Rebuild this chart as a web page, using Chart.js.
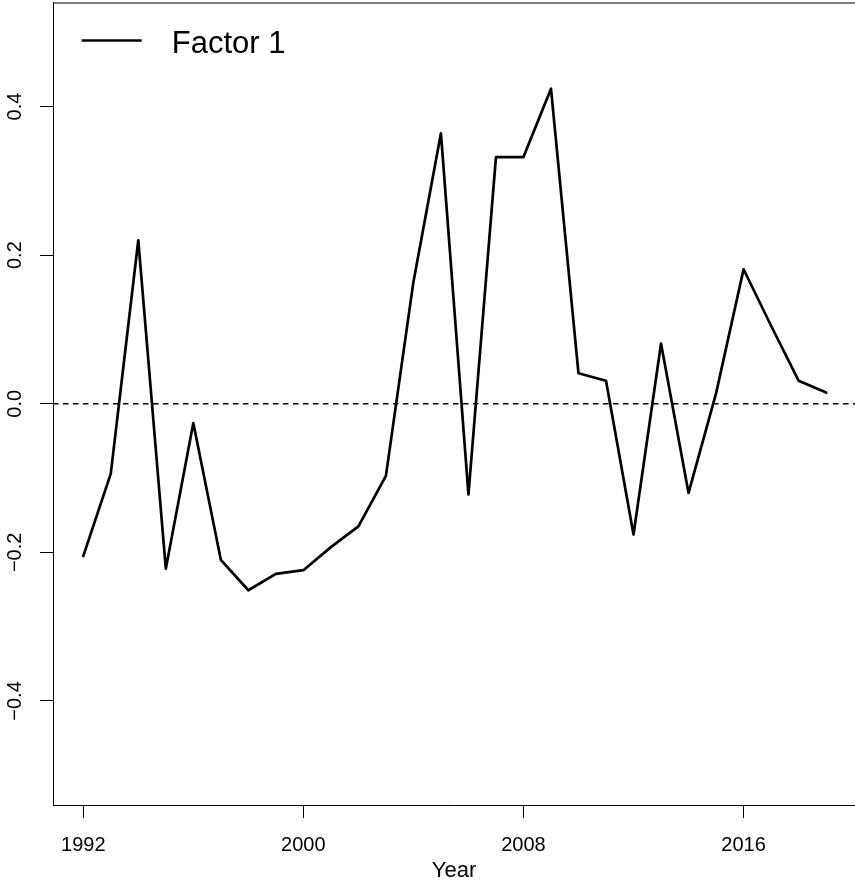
<!DOCTYPE html>
<html>
<head>
<meta charset="utf-8">
<title>Factor 1</title>
<script src="https://cdn.jsdelivr.net/npm/chart.js@4.4.1/dist/chart.umd.min.js"></script>
<style>
  html, body { margin: 0; padding: 0; background: #ffffff; overflow: hidden; }
  #wrap { width: 855px; height: 882px; position: relative; }
</style>
</head>
<body>
<div id="wrap"><canvas id="chart"></canvas></div>
<script>
// Yearly scores of the first factor
const years = [1992, 1993, 1994, 1995, 1996, 1997, 1998, 1999, 2000, 2001,
               2002, 2003, 2004, 2005, 2006, 2007, 2008, 2009, 2010, 2011,
               2012, 2013, 2014, 2015, 2016, 2017, 2018, 2019];
const factor1 = [-0.205, -0.094, 0.220, -0.222, -0.026, -0.210, -0.251, -0.229, -0.224, -0.193,
                 -0.165, -0.097, 0.164, 0.364, -0.122, 0.332, 0.332, 0.424, 0.041, 0.031,
                 -0.176, 0.081, -0.120, 0.014, 0.181, 0.105, 0.031, 0.015];
const seriesLabel = 'Factor 1';
const xTitle = 'Year';

// Axis ticks and limits
const xTicks = [1992, 2000, 2008, 2016];
const yTicks = [-0.4, -0.2, 0, 0.2, 0.4];
const yTickLabels = ['\u22120.4', '\u22120.2', '0.0', '0.2', '0.4'];
const xRange = [1990.9, 2020.05];
const yRange = [-0.54, 0.54];
const referenceLevel = 0;

const FONT = '"Liberation Sans", Arial, Helvetica, sans-serif';
const INK = '#000000';

// Top edge of the plot box (left and bottom come from the axes)
const boxTop = {
  id: 'boxTop',
  afterDraw(chart) {
    const { ctx, chartArea } = chart;
    ctx.save();
    ctx.strokeStyle = INK;
    ctx.lineWidth = 1;
    ctx.beginPath();
    ctx.moveTo(chartArea.left, chartArea.top + 0.5);
    ctx.lineTo(chartArea.right, chartArea.top + 0.5);
    ctx.stroke();
    ctx.restore();
  }
};

// Dashed horizontal reference line at zero
const refLine = {
  id: 'refLine',
  beforeDatasetsDraw(chart) {
    const { ctx, chartArea, scales } = chart;
    const y = scales.y.getPixelForValue(referenceLevel);
    ctx.save();
    ctx.strokeStyle = INK;
    ctx.lineWidth = 1.3;
    ctx.setLineDash([5.5, 4.5]);
    ctx.beginPath();
    ctx.moveTo(chartArea.left, y);
    ctx.lineTo(chartArea.right, y);
    ctx.stroke();
    ctx.restore();
  }
};

// Borderless legend in the upper-left corner of the plot
const cornerLegend = {
  id: 'cornerLegend',
  afterDraw(chart) {
    const { ctx, chartArea } = chart;
    const ds = chart.data.datasets[0];
    const x0 = chartArea.left + 28.7;
    const yLine = chartArea.top + 38;
    ctx.save();
    ctx.strokeStyle = ds.borderColor;
    ctx.lineWidth = ds.borderWidth;
    ctx.lineCap = 'butt';
    ctx.beginPath();
    ctx.moveTo(x0, yLine);
    ctx.lineTo(x0 + 60, yLine);
    ctx.stroke();
    ctx.fillStyle = INK;
    ctx.font = '31px ' + FONT;
    ctx.textBaseline = 'alphabetic';
    ctx.textAlign = 'left';
    ctx.fillText(ds.label, x0 + 90, chartArea.top + 50.6);
    ctx.restore();
  }
};

new Chart(document.getElementById('chart'), {
  type: 'line',
  data: {
    datasets: [{
      label: seriesLabel,
      data: years.map((yr, i) => ({ x: yr, y: factor1[i] })),
      borderColor: INK,
      borderWidth: 2.7,
      borderJoinStyle: 'round',
      borderCapStyle: 'round',
      pointRadius: 0,
      tension: 0,
      fill: false
    }]
  },
  options: {
    responsive: true,
    maintainAspectRatio: false,
    animation: false,
    events: [],
    layout: { padding: { top: 2.5, left: 0, right: 0, bottom: 0 } },
    plugins: {
      legend: { display: false },
      tooltip: { enabled: false }
    },
    scales: {
      x: {
        type: 'linear',
        min: xRange[0],
        max: xRange[1],
        afterBuildTicks: (scale) => { scale.ticks = xTicks.map(v => ({ value: v })); },
        afterFit: (scale) => {
          scale.height = 77;
          scale.paddingLeft = 0;
          scale.paddingRight = 0;
        },
        border: { display: true, color: INK, width: 1 },
        grid: { drawOnChartArea: false, drawTicks: true, tickLength: 13, color: INK, lineWidth: 1 },
        ticks: {
          color: INK,
          font: { family: FONT, size: 20 },
          padding: 15,
          maxRotation: 0,
          autoSkip: false,
          callback: (v) => String(v)
        },
        title: {
          display: true,
          text: xTitle,
          color: INK,
          font: { family: FONT, size: 22, lineHeight: 1 },
          padding: { top: 0, bottom: 0 }
        }
      },
      y: {
        type: 'linear',
        min: yRange[0],
        max: yRange[1],
        afterBuildTicks: (scale) => { scale.ticks = yTicks.map(v => ({ value: v })); },
        afterFit: (scale) => {
          scale.width = 53;
          scale.paddingTop = 0;
          scale.paddingBottom = 0;
        },
        border: { display: true, color: INK, width: 1 },
        grid: { drawOnChartArea: false, drawTicks: true, tickLength: 13, color: INK, lineWidth: 1 },
        ticks: {
          color: INK,
          font: { family: FONT, size: 20 },
          padding: 5,
          minRotation: 90,
          maxRotation: 90,
          crossAlign: 'center',
          autoSkip: false,
          callback: (v) => {
            const i = yTicks.findIndex(t => Math.abs(t - v) < 1e-9);
            return i >= 0 ? yTickLabels[i] : '';
          }
        }
      }
    }
  },
  plugins: [boxTop, refLine, cornerLegend]
});
</script>
</body>
</html>
